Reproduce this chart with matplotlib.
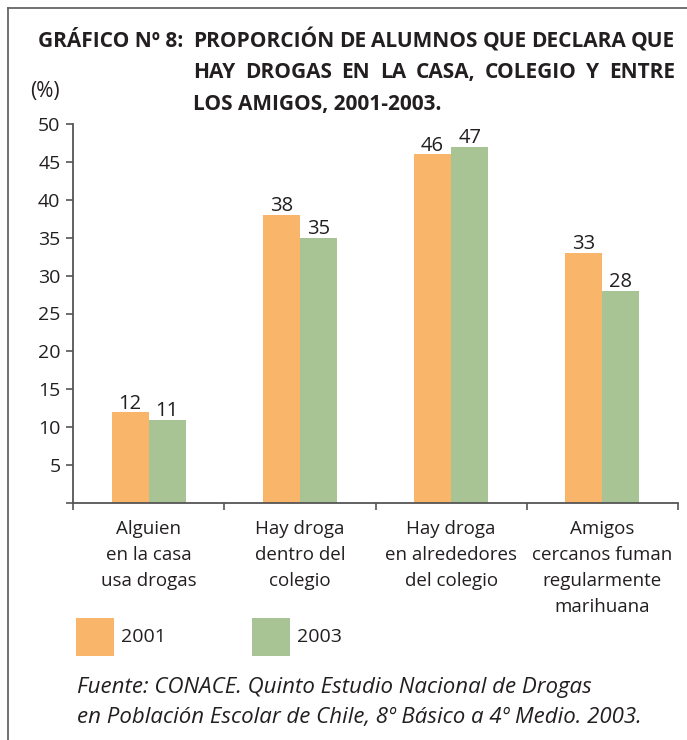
import numpy as np
import matplotlib
matplotlib.use('Agg')
import matplotlib.pyplot as plt
from matplotlib.lines import Line2D
from matplotlib.patches import Rectangle

plt.rcParams['font.family'] = ['Open Sans', 'DejaVu Sans']

# datos del gráfico
categorias = ['Alguien\nen la casa\nusa drogas',
              'Hay droga\ndentro del\ncolegio',
              'Hay droga\nen alrededores\ndel colegio',
              'Amigos\ncercanos fuman\nregularmente\nmarihuana']
valores_2001 = [12, 38, 46, 33]
valores_2003 = [11, 35, 47, 28]
anios = ['2001', '2003']
colores = ['#F9B56A', '#A8C494']
ticks_y = list(range(0, 51, 5))

gris = '#555555'
texto = '#231F20'

W, H = 687, 740
fig = plt.figure(figsize=(W / 100, H / 100), dpi=100)

def fx(px):
    return px / W

def fy(py):
    return 1 - py / H

ax = fig.add_axes([fx(73), fy(503), fx(678) - fx(73), fy(124) - fy(503)])

x = np.arange(len(categorias)) + 0.5
ancho = 0.245
b1 = ax.bar(x - ancho / 2, valores_2001, width=ancho, color=colores[0])
b2 = ax.bar(x + ancho / 2, valores_2003, width=ancho, color=colores[1])

for barras, vals in [(b1, valores_2001), (b2, valores_2003)]:
    for b, v in zip(barras, vals):
        ax.annotate(str(v), (b.get_x() + b.get_width() / 2, v),
                    xytext=(0, 2.5), textcoords='offset points',
                    ha='center', va='baseline', fontsize=14.5, color=texto)

ax.set_xlim(0, len(categorias))
ax.set_ylim(0, 50)
for s in ['top', 'right']:
    ax.spines[s].set_visible(False)
for s in ['left', 'bottom']:
    ax.spines[s].set_color(gris)
    ax.spines[s].set_linewidth(1.3)

ax.set_xticks(range(len(categorias) + 1))
ax.set_xticklabels([])
ax.set_yticks(ticks_y)
ax.set_yticklabels([''] + [str(t) for t in ticks_y[1:]])
ax.tick_params(axis='both', direction='out', length=5, width=1.2, color=gris,
               labelsize=14, labelcolor=texto, pad=4)

# etiquetas de categoría, línea por línea
for xi, c in zip(x, categorias):
    for k, linea in enumerate(c.split('\n')):
        fig.text(fx(73) + (xi / len(categorias)) * (fx(678) - fx(73)), fy(527 + 26 * k),
                 linea, ha='center', va='center_baseline', fontsize=13.5, color=texto)

fig.text(fx(45), fy(91), '(%)', ha='center', va='center', fontsize=15, color=texto)

# título, con las dos primeras líneas justificadas
titulo_kw = dict(fontsize=15, fontweight='bold', color=texto, va='baseline')
fig.text(fx(38), fy(47), 'GRÁFICO Nº 8:', **titulo_kw)

def linea_justificada(linea, x0, x1, base):
    r = fig.canvas.get_renderer()
    palabras = linea.split()
    objs = [fig.text(0, fy(base), p, **titulo_kw) for p in palabras]
    anchos = [o.get_window_extent(r).width for o in objs]
    hueco = (x1 - x0 - sum(anchos)) / (len(palabras) - 1)
    pos = x0
    for o, a in zip(objs, anchos):
        o.set_x(fx(pos))
        pos += a + hueco

linea_justificada('PROPORCIÓN DE ALUMNOS QUE DECLARA QUE', 193, 675, 47)
linea_justificada('HAY DROGAS EN LA CASA, COLEGIO Y ENTRE', 193, 675, 78)
fig.text(fx(193), fy(110), 'LOS AMIGOS, 2001-2003.', **titulo_kw)

# leyenda
for (x0, col, lab) in [(76, colores[0], anios[0]), (252, colores[1], anios[1])]:
    fig.add_artist(Rectangle((fx(x0), fy(656)), fx(38), fy(618) - fy(656),
                             transform=fig.transFigure, color=col, lw=0))
    fig.text(fx(x0 + 45), fy(637), lab, ha='left', va='center', fontsize=14, color=texto)

nota = ['Fuente: CONACE. Quinto Estudio Nacional de Drogas',
        'en Población Escolar de Chile, 8º Básico a 4º Medio. 2003.']
fig.text(fx(77), fy(693), nota[0], style='italic', fontsize=16, color=texto, va='baseline')
fig.text(fx(77), fy(723), nota[1], style='italic', fontsize=16, color=texto, va='baseline')

# marco
fig.add_artist(Line2D([fx(8), fx(8)], [fy(8), 0], color='#666666', lw=1.3))
fig.add_artist(Line2D([fx(8), 1], [fy(8), fy(8)], color='#666666', lw=1.3))

fig.savefig('out.png', dpi=100)
